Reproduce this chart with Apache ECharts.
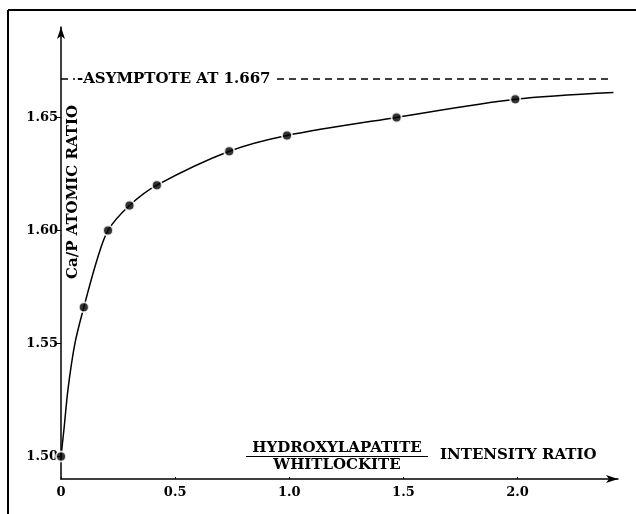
<!DOCTYPE html>
<html>
<head>
<meta charset="utf-8">
<script src="https://cdn.jsdelivr.net/npm/echarts@6/dist/echarts.min.js"></script>
<style>
    html, body { margin: 0; padding: 0; background: #fff; }
    #chart { width: 636px; height: 514px; }
</style>
</head>
<body>
<div id="chart"></div>
<script>
// measured points (intensity ratio, Ca/P)
let pointX = [0, 0.10, 0.206, 0.30, 0.42, 0.737, 0.99, 1.47, 1.99];
let pointY = [1.500, 1.566, 1.600, 1.611, 1.620, 1.635, 1.642, 1.650, 1.658];

// drawn curve
let curveX = [0, 0.013, 0.031, 0.061, 0.10, 0.158, 0.206, 0.30, 0.42, 0.737, 0.99, 1.47, 1.99, 2.42];
let curveY = [1.500, 1.512, 1.530, 1.550, 1.566, 1.587, 1.600, 1.611, 1.620, 1.635, 1.642, 1.650, 1.658, 1.661];

let xTicks = [0, 0.5, 1.0, 1.5, 2.0];
let yTicks = [1.50, 1.55, 1.60, 1.65];
let asymptote = 1.667;
let asymptoteEnd = 2.40;

let yTitle = 'Ca/P ATOMIC RATIO';
let xTitleTop = 'HYDROXYLAPATITE';
let xTitleBottom = 'WHITLOCKITE';
let xTitleRight = 'INTENSITY RATIO';

let font = '"DejaVu Serif", serif';

let points = pointX.map((x, i) => [x, pointY[i]]);
let curve = curveX.map((x, i) => [x, curveY[i]]);

let option = {
    animation: false,
    backgroundColor: '#fff',
    grid: { left: 61, right: 18, top: 27, bottom: 35 },
    xAxis: {
        type: 'value',
        min: 0,
        max: 2.44,
        splitLine: { show: false },
        axisLine: { lineStyle: { color: '#000', width: 1.5 }, symbol: ['none', 'arrow'], symbolSize: [6, 12] },
        axisTick: { inside: true, length: 2, customValues: xTicks, lineStyle: { color: '#000' } },
        axisLabel: {
            customValues: xTicks,
            color: '#000', fontFamily: font, fontWeight: 'bold', fontSize: 13, margin: 7,
            formatter: v => v === 0 ? '0' : v.toFixed(1)
        }
    },
    yAxis: {
        type: 'value',
        min: 1.49,
        max: 1.69,
        splitLine: { show: false },
        axisLine: { lineStyle: { color: '#000', width: 1.5 }, symbol: ['none', 'arrow'], symbolSize: [6, 12] },
        axisTick: { length: 4, customValues: yTicks, lineStyle: { color: '#000' } },
        axisLabel: {
            customValues: yTicks,
            color: '#000', fontFamily: font, fontWeight: 'bold', fontSize: 13, margin: 3,
            formatter: v => v.toFixed(2)
        }
    },
    series: [
        {
            name: 'curve',
            type: 'line',
            data: curve,
            smooth: 0.3,
            showSymbol: false,
            lineStyle: { color: '#000', width: 1.5 },
            markLine: {
                silent: true,
                symbol: 'none',
                lineStyle: { color: '#000', type: [7, 5], width: 1.5 },
                label: {
                    position: 'insideStart',
                    distance: [14, 0],
                    formatter: '-ASYMPTOTE AT 1.667',
                    color: '#000', fontFamily: font, fontWeight: 'bold', fontSize: 15,
                    backgroundColor: '#fff', padding: [0, 2]
                },
                data: [[{ coord: [0, asymptote] }, { coord: [asymptoteEnd, asymptote] }]]
            }
        },
        {
            name: 'points',
            type: 'scatter',
            data: points,
            symbolSize: 10,
            z: 5,
            itemStyle: { color: '#000', borderColor: '#fff', borderWidth: 2 }
        }
    ],
    graphic: [
        { type: 'line', shape: { x1: 8, y1: 10, x2: 636, y2: 10 }, style: { stroke: '#000', lineWidth: 2 } },
        { type: 'line', shape: { x1: 8, y1: 10, x2: 8, y2: 514 }, style: { stroke: '#000', lineWidth: 2 } },
        {
            type: 'text', x: 73, y: 192, rotation: Math.PI / 2,
            style: { text: yTitle, fill: '#000', font: 'bold 15px ' + font, align: 'center', verticalAlign: 'middle' }
        },
        {
            type: 'text', x: 337, y: 448,
            style: { text: xTitleTop, fill: '#000', font: 'bold 15px ' + font, align: 'center', verticalAlign: 'middle' }
        },
        { type: 'line', shape: { x1: 246, y1: 456.5, x2: 428, y2: 456.5 }, style: { stroke: '#000', lineWidth: 1.2 } },
        {
            type: 'text', x: 337, y: 465,
            style: { text: xTitleBottom, fill: '#000', font: 'bold 15px ' + font, align: 'center', verticalAlign: 'middle' }
        },
        {
            type: 'text', x: 440, y: 455,
            style: { text: xTitleRight, fill: '#000', font: 'bold 15px ' + font, align: 'left', verticalAlign: 'middle' }
        }
    ]
};

let chart = echarts.init(document.getElementById('chart'));
chart.setOption(option);
</script>
</body>
</html>
